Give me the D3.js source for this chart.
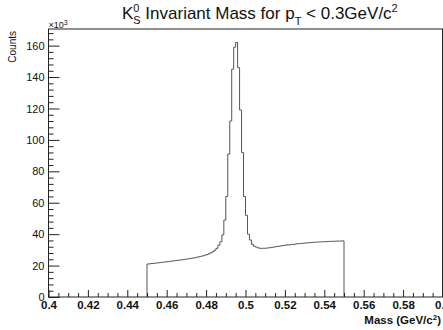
<!DOCTYPE html>
<html>
<head>
<meta charset="utf-8">
<script src="https://cdn.jsdelivr.net/npm/d3@7"></script>
<style>
  body { margin: 0; background: #fff; }
  svg { font-family: "Liberation Sans", Arial, sans-serif; }
</style>
</head>
<body>
<script>
// histogram: 100 bins of width 0.001 GeV/c^2 from 0.45 to 0.55, counts in units of 10^3
const binLow = 0.45
const binWidth = 0.001
const counts = [
  21.0, 21.1, 21.3, 21.4, 21.6, 21.7, 21.9, 22.0, 22.2, 22.3,
  22.5, 22.6, 22.8, 23.0, 23.1, 23.3, 23.5, 23.6, 23.8, 24.0,
  24.2, 24.4, 24.6, 24.8, 25.0, 25.3, 25.6, 25.9, 26.2, 26.6,
  27.0, 27.5, 28.1, 28.8, 29.8, 31.0, 33.0, 35.2, 39.5, 49.0,
  64.0, 91.0, 112.0, 145.0, 159.0, 162.0, 146.0, 119.0, 92.0, 64.0,
  52.0, 40.0, 36.3, 33.5, 32.3, 31.8, 31.3, 31.0, 31.0, 31.0,
  31.1, 31.2, 31.4, 31.6, 31.8, 32.0, 32.2, 32.4, 32.6, 32.8,
  33.0, 33.2, 33.2, 33.5, 33.4, 33.7, 33.9, 34.0, 34.1, 34.2,
  34.3, 34.5, 34.6, 34.7, 34.8, 34.9, 35.0, 35.0, 35.1, 35.2,
  35.2, 35.3, 35.4, 35.4, 35.5, 35.5, 35.6, 35.6, 35.6, 35.7,
]

const xTicks = [0.4, 0.42, 0.44, 0.46, 0.48, 0.5, 0.52, 0.54, 0.56, 0.58, 0.6]
const yTicks = [0, 20, 40, 60, 80, 100, 120, 140, 160]

const width = 443
const height = 330
const margin = {left: 48.5, right: 0.5, top: 29, bottom: 33}

const x = d3.scaleLinear().domain([0.4, 0.6]).range([margin.left, width - margin.right])
const y = d3.scaleLinear().domain([0, d3.max(counts) * 1.053]).range([height - margin.bottom, margin.top])

const svg = d3.select('body').append('svg').attr('width', width).attr('height', height)

// frame
svg.append('rect')
   .attr('x', x(0.4)).attr('y', y.range()[1])
   .attr('width', x(0.6) - x(0.4)).attr('height', y.range()[0] - y.range()[1])
   .attr('fill', 'none').attr('stroke', '#222').attr('stroke-width', 1)

// histogram outline, drawn down to zero at both ends
const pts = [[binLow, 0]]
counts.forEach((c, i) => {
  pts.push([binLow + i * binWidth, c])
  pts.push([binLow + (i + 1) * binWidth, c])
})
pts.push([binLow + counts.length * binWidth, 0])

svg.append('path')
   .attr('d', d3.line().x(d => x(d[0])).y(d => y(d[1]))(pts))
   .attr('fill', 'none').attr('stroke', '#555').attr('stroke-width', 1)

// y axis, ticks pointing into the plot
const yMinor = d3.range(0, 171, 4).filter(v => v % 20 !== 0)
svg.append('g').attr('transform', `translate(${x(0.4)},0)`)
   .call(d3.axisLeft(y).tickValues(yMinor).tickSize(-5).tickFormat(''))
svg.append('g').attr('class', 'yaxis').attr('transform', `translate(${x(0.4)},0)`)
   .call(d3.axisLeft(y).tickValues(yTicks).tickSize(-11).tickPadding(4).tickFormat(d3.format('d')))

// x axis
const xMinor = d3.range(0, 41).map(i => 0.4 + i * 0.005).filter((v, i) => i % 4 !== 0)
svg.append('g').attr('transform', `translate(0,${y(0)})`)
   .call(d3.axisBottom(x).tickValues(xMinor).tickSize(-4).tickFormat(''))
svg.append('g').attr('class', 'xaxis').attr('transform', `translate(0,${y(0)})`)
   .call(d3.axisBottom(x).tickValues(xTicks).tickSize(-7).tickPadding(4).tickFormat(d => String(+d.toFixed(2))))

svg.selectAll('.domain').remove()
svg.selectAll('.tick line').attr('stroke', '#222')
svg.selectAll('.yaxis text').attr('font-size', 11).attr('fill', '#111')
   .attr('font-family', '"Liberation Sans", Arial, sans-serif')
svg.selectAll('.xaxis text').attr('font-size', 11.5).attr('font-weight', 'bold').attr('fill', '#111')
   .attr('font-family', '"Liberation Sans", Arial, sans-serif')

// exponent label
const ex = svg.append('text').attr('x', x(0.4)).attr('y', 28).attr('font-size', 9).attr('fill', '#111')
ex.append('tspan').text('×10')
ex.append('tspan').attr('dy', -3).attr('font-size', 7).text('3')

// axis titles
svg.append('text')
   .attr('transform', 'translate(16,31) rotate(-90)')
   .attr('text-anchor', 'end').attr('font-size', 10).attr('fill', '#111')
   .text('Counts')

const xt = svg.append('text').attr('x', 441).attr('y', 324).attr('text-anchor', 'end')
   .attr('font-size', 11.5).attr('font-weight', 'bold').attr('fill', '#111')
xt.append('tspan').text('Mass (GeV/c')
xt.append('tspan').attr('dy', -4).attr('font-size', 8).text('2')
xt.append('tspan').attr('dy', 4).text(')')

// title
const t = svg.append('text').attr('x', 122).attr('y', 19).attr('font-size', 17).attr('fill', '#111')
t.append('tspan').text('K')
t.append('tspan').attr('dy', -7).attr('font-size', 11).text('0')
t.append('tspan').attr('dx', -6.2).attr('dy', 12).attr('font-size', 11).text('S')
t.append('tspan').attr('dy', -5).text(' Invariant Mass for p')
t.append('tspan').attr('dy', 6).attr('font-size', 11).text('T')
t.append('tspan').attr('dy', -6).text(' < 0.3GeV/c')
t.append('tspan').attr('dy', -7).attr('font-size', 11).text('2')
</script>
</body>
</html>
